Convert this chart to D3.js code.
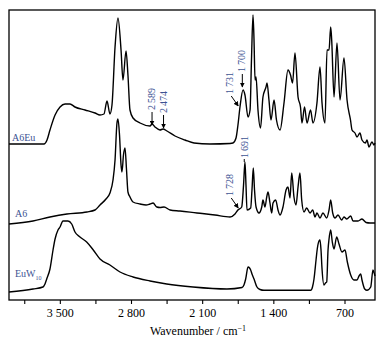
<!DOCTYPE html>
<html>
<head>
<meta charset="utf-8">
<script src="https://cdn.jsdelivr.net/npm/d3@7.8.5/dist/d3.min.js"></script>
<style>
    body { margin: 0; background: #fff; }
    svg { display: block; font-family: "Liberation Serif", "DejaVu Serif", serif; }
    .trace { fill: none; stroke: #000; stroke-width: 1.4px; stroke-linejoin: round; }
    .name, .note { fill: #3d5393; }
</style>
</head>
<body>
<script>
// wavenumber (cm-1) and intensity (arb. units, stacked with offsets)
const a6euWn = [4000,3656,3626,3597,3547,3498,3449,3400,3351,3252,3154,3105,3066,3036,3007,2987,2957,2928,2898,2879,2849,2830,2810,2780,2711,2613,2593,2564,2515,2485,2446,2367,2269,2180,2023,1826,1797,1767,1748,1728,1698,1679,1649,1629,1615,1600,1590,1580,1570,1551,1526,1502,1472,1462,1443,1423,1393,1369,1334,1295,1256,1231,1211,1187,1157,1133,1118,1093,1069,1034,1010,971,941,921,892,872,852,836,826,803,774,744,705,675,641,626,597,577,548,528,494,479,459,430,410,400];
const a6euI = [156,156,160,170,185,193,196,196,193,190,187,185,186,199,186,195,253,282,250,220,249,225,190,182,177,174,176,173,170,171,169,164,160,157,156,156.5,157,162,175,193,210,205,183,190,240,285,260,220,223,190,172,203,213,217,200,180,200,180,170,197,230,225,217,247,203,193,177,193,177,190,177,197,233,197,177,250,250,273,260,203,257,200,242,200,180,170,167,163,167,160,157,160,153,158,155,157];

const a6Wn = [4000,3764,3597,3430,3233,3154,3105,3046,3007,2977,2957,2938,2928,2913,2898,2889,2874,2859,2844,2830,2810,2780,2711,2652,2613,2583,2546,2515,2475,2416,2318,2151,1974,1826,1777,1748,1711,1693,1679,1669,1659,1623,1610,1597,1585,1570,1541,1514,1502,1482,1465,1452,1433,1416,1403,1377,1354,1334,1305,1275,1256,1236,1219,1197,1177,1157,1138,1121,1098,1072,1039,1013,990,971,941,912,875,852,836,816,793,764,728,705,678,639,616,567,528,488,449,400];
const a6I = [76,79,83,86,88,90,95,101,107,120,140,177,181,165,135,128,145,152,130,108,103,98,96,95,96,97,93,92.5,93,90,89,87,85,83,86,90,93,115,138,115,90,92,110,132,110,93,87,93,100,93,103,108,97,87,97,100,90,85,93,110,113,102,127,103,95,113,127,100,88,92,87,90,83,87,82,87,82,90,100,87,82,85,80,83,81,84,79,79,81,77.5,77,77];

const euwWn = [4000,3764,3666,3646,3629,3597,3567,3547,3518,3498,3469,3420,3383,3351,3302,3236,3171,3105,3007,2908,2780,2613,2449,2190,1856,1708,1689,1672,1649,1634,1623,1610,1590,1561,1531,1492,1032,1015,1000,980,968,951,941,931,921,902,887,875,862,852,836,820,803,777,754,725,695,672,639,607,577,557,541,528,501,479,442,420,403,400];
const euwI = [8,11,13,16,21,31,50,61,70,73,79,79,76,68,63,58,50,41,35,28,23,19,16,13,11,12.5,15,21,33,32,30,26,21,13,10.5,9.7,9.7,13,21,40,51,59,60,50,31,15,17,18,50,61,70,58,51,63,56,48,50,38,25,20,20,24,26,20,11,9.7,13,30,25,24];

const majorTicks = [3500, 2800, 2100, 1400, 700];
const minorTicks = [3850, 3150, 2450, 1750, 1050];

const seriesNames = ['A6Eu', 'A6', 'EuW'];
const seriesWn = [a6euWn, a6Wn, euwWn];
const seriesI = [a6euI, a6I, euwI];

// peak notes: label, wavenumber, intensity at arrow tip
const notes = [
    { text: '2\u2009589', wn: 2593, tip: 175, kind: 'down' },
    { text: '2\u2009474', wn: 2480, tip: 172, kind: 'down' },
    { text: '1\u2009731', wn: 1745, tip: 194, kind: 'diag' },
    { text: '1\u2009700', wn: 1705, tip: 213, kind: 'down' },
    { text: '1\u2009691', wn: 1686, tip: 138, kind: 'tick' },
    { text: '1\u2009728', wn: 1745, tip: 92, kind: 'diag' }
];

const W = 388, H = 345;
const box = { left: 9, right: 375, top: 10, bottom: 300 };

const x = d3.scaleLinear().domain([4000, 400]).range([box.left, box.right]);
const y = d3.scaleLinear().domain([0, 290]).range([box.bottom, box.top]);

const svg = d3.select('body').append('svg')
    .attr('width', W).attr('height', H);

svg.append('defs').append('marker')
    .attr('id', 'arr')
    .attr('viewBox', '0 0 10 10')
    .attr('refX', 9).attr('refY', 5)
    .attr('markerWidth', 5).attr('markerHeight', 5)
    .attr('orient', 'auto')
    .append('path').attr('d', 'M0,0L10,5L0,10z').attr('fill', '#000');

// traces
const line = d3.line()
    .x(d => x(d[0]))
    .y(d => y(d[1]))
    .curve(d3.curveMonotoneX);

seriesWn.forEach((wn, k) => {
    const pts = wn.map((w, i) => [w, seriesI[k][i]]);
    svg.append('path').attr('class', 'trace').attr('d', line(pts));
});

// frame
svg.append('rect')
    .attr('x', box.left).attr('y', box.top)
    .attr('width', box.right - box.left).attr('height', box.bottom - box.top)
    .attr('fill', 'none').attr('stroke', '#000').attr('stroke-width', 1.3);

// x axis
const fmt = d => d3.format(',')(d).replace(',', ' ');
const axis = svg.append('g').attr('transform', `translate(0,${box.bottom})`)
    .call(d3.axisBottom(x).tickValues(majorTicks).tickSize(4).tickPadding(4).tickFormat(fmt));
axis.select('.domain').remove();
axis.selectAll('text').attr('font-size', 12).attr('fill', '#000')
    .attr('font-family', '"Liberation Serif", serif');
axis.selectAll('line').attr('stroke-width', 1.1);

const minor = svg.append('g').attr('transform', `translate(0,${box.bottom})`)
    .call(d3.axisBottom(x).tickValues(minorTicks).tickSize(4).tickFormat(''));
minor.select('.domain').remove();
minor.selectAll('line').attr('stroke-width', 1.1);

const title = svg.append('text')
    .attr('x', (box.left + box.right) / 2 + 6).attr('y', 335)
    .attr('text-anchor', 'middle').attr('font-size', 12);
title.append('tspan').text('Wavenumber / cm');
title.append('tspan').attr('dy', -4).attr('font-size', 8).text('\u22121');

// series names
const nameY = [159, 83, 23];
seriesNames.forEach((n, k) => {
    const t = svg.append('text').attr('class', 'name')
        .attr('x', k === 0 ? 12 : 15).attr('y', y(nameY[k]))
        .attr('font-size', 10).text(n);
    if (n === 'EuW') t.append('tspan').attr('dy', 3).attr('font-size', 6).text('10');
});

// peak notes
notes.forEach(d => {
    const px = x(d.wn), py = y(d.tip);
    let tx, ty, x1, y1;
    if (d.kind === 'down') {
        x1 = px; y1 = py - 13;
        tx = px + 3; ty = y1 - 2;
    } else if (d.kind === 'diag') {
        x1 = px - 7; y1 = py - 10;
        tx = x1 + 2; ty = y1 - 2;
    } else {
        x1 = px; y1 = py - 3;
        tx = px + 3.5; ty = y1 - 1;
    }
    svg.append('line')
        .attr('x1', x1).attr('y1', y1).attr('x2', px).attr('y2', py)
        .attr('stroke', '#000').attr('stroke-width', 1)
        .attr('marker-end', d.kind === 'tick' ? null : 'url(#arr)');
    svg.append('text').attr('class', 'note')
        .attr('transform', `translate(${tx},${ty}) rotate(-90)`)
        .attr('font-size', 10).text(d.text);
});
</script>
</body>
</html>
